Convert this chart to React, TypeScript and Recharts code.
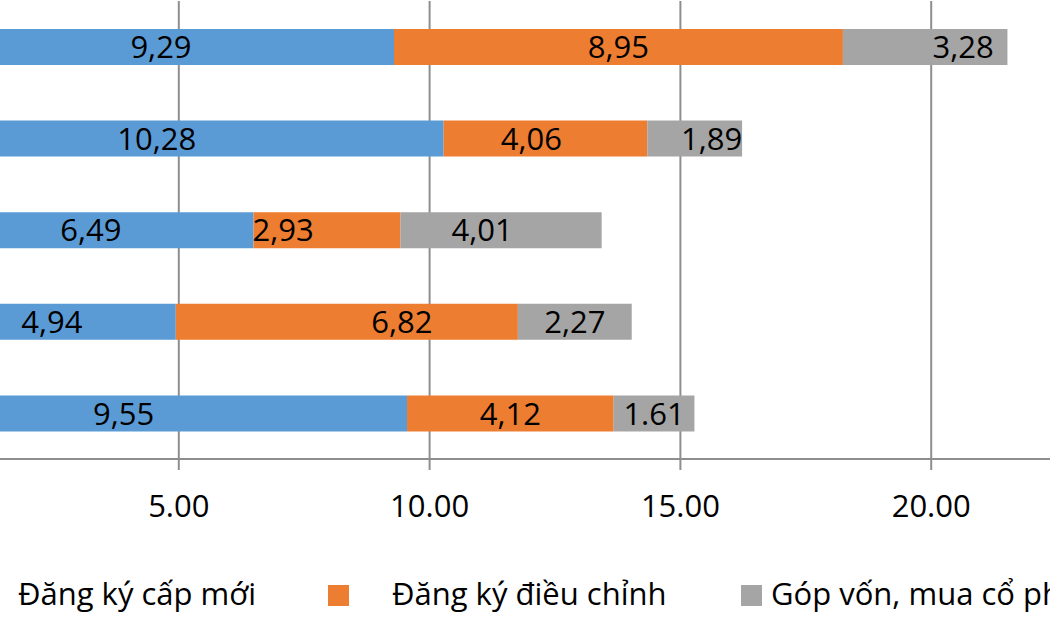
import { Bar, BarChart, CartesianGrid, LabelList, Legend, XAxis, YAxis } from "recharts";

// Five rows of stacked values; labels keep the separators printed on the bars
const rows = ["Nhóm 1", "Nhóm 2", "Nhóm 3", "Nhóm 4", "Nhóm 5"];
const newRegLabels = ["9,29", "10,28", "6,49", "4,94", "9,55"];
const adjustLabels = ["8,95", "4,06", "2,93", "6,82", "4,12"];
const capitalLabels = ["3,28", "1,89", "4,01", "2,27", "1.61"];
const xTicks = [5, 10, 15, 20];

const toNumber = (s: string) => parseFloat(s.replace(",", "."));

const data = rows.map((name, i) => ({
  name,
  newReg: toNumber(newRegLabels[i]),
  adjust: toNumber(adjustLabels[i]),
  capital: toNumber(capitalLabels[i]),
}));

const FONT = "'Open Sans', sans-serif";
const GRID = "#8e8e8e";

// chart is wider than the viewport and shifted left, so the zero line sits off-canvas
const SHIFT = 150;

const series = [
  { key: "newReg", name: "Đăng ký cấp mới", color: "#5B9BD5", labels: newRegLabels, dx: [0, -29, 0, 0, -44] },
  { key: "adjust", name: "Đăng ký điều chỉnh", color: "#ED7D31", labels: adjustLabels, dx: [0, -14, -44, 55, 0] },
  { key: "capital", name: "Góp vốn, mua cổ phần", color: "#A5A5A5", labels: capitalLabels, dx: [38, 17, -19, 0, 0] },
];

// legend item placement (square left, text left) in chart coordinates
const legendSlots = [
  { square: -40 + SHIFT, text: 18 + SHIFT },
  { square: 328 + SHIFT, text: 392 + SHIFT },
  { square: 741 + SHIFT, text: 771 + SHIFT },
];

const makeLabel = (labels: string[], dx: number[]) => (props: any) => {
  const { x, y, width, height, index } = props;
  return (
    <text
      x={Number(x) + Number(width) / 2 + (dx[index] || 0)}
      y={Number(y) + Number(height) / 2}
      dy="0.36em"
      textAnchor="middle"
      fontSize={31}
      fontFamily={FONT}
      fill="#000"
    >
      {labels[index]}
    </text>
  );
};

const LegendRow = () => (
  <svg width={1400} height={81} style={{ display: "block" }}>
    {series.map((s, i) => (
      <g key={s.key}>
        <rect x={legendSlots[i].square} y={36} width={21} height={21} fill={s.color} />
        <text x={legendSlots[i].text} y={56} fontSize={31} fontFamily={FONT} fill="#000">
          {s.name}
        </text>
      </g>
    ))}
  </svg>
);

export default function App() {
  return (
    <div style={{ position: "absolute", left: 0, top: 0, width: 1050, height: 630, overflow: "hidden", background: "#fff" }}>
      <div style={{ position: "absolute", left: -SHIFT, top: 0, fontFamily: FONT }}>
        <BarChart
          width={1400}
          height={630}
          data={data}
          layout="vertical"
          margin={{ top: 1, right: 68, left: 78, bottom: 0 }}
          barSize={36}
        >
          <CartesianGrid horizontal={false} stroke={GRID} strokeWidth={2} />
          <XAxis
            type="number"
            domain={[0, 25]}
            ticks={xTicks}
            height={90}
            tickFormatter={(v: number) => v.toFixed(2)}
            tick={{ fontSize: 31, fontFamily: FONT, fill: "#000" }}
            tickSize={11}
            tickMargin={25}
            axisLine={{ stroke: GRID, strokeWidth: 2 }}
            tickLine={{ stroke: GRID, strokeWidth: 2 }}
          />
          <YAxis type="category" dataKey="name" hide />
          <Legend
            verticalAlign="bottom"
            content={<LegendRow />}
            wrapperStyle={{ left: 0, width: 1400, bottom: 0, height: 81 }}
          />
          {series.map((s) => (
            <Bar key={s.key} dataKey={s.key} name={s.name} stackId="total" fill={s.color} isAnimationActive={false}>
              <LabelList dataKey={s.key} content={makeLabel(s.labels, s.dx)} />
            </Bar>
          ))}
        </BarChart>
      </div>
    </div>
  );
}
